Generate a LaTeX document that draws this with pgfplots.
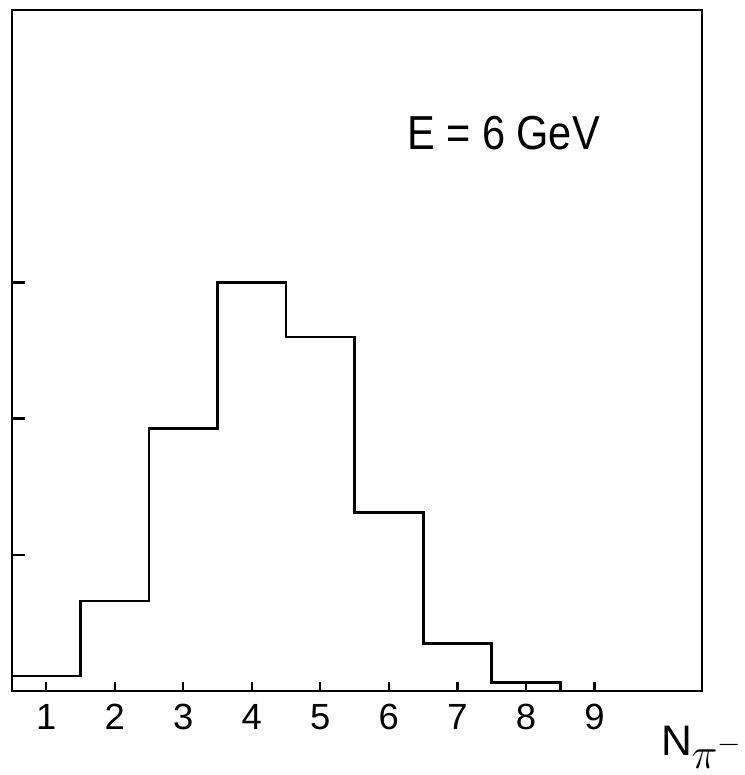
\documentclass[border=0pt]{standalone}
\usepackage{fontspec}
\setmainfont{Liberation Sans}
\usepackage{pgfplots}
\pgfplotsset{compat=1.18}

\begin{document}
\begin{tikzpicture}
% 1px of the reference = 0.014cm
\useasboundingbox (0,0) rectangle (10.416,10.85);
\begin{axis}[
  at={(0.168cm,1.176cm)}, anchor=south west,
  scale only axis,
  width=9.66cm, height=9.534cm,
  xmin=0.5, xmax=10.57,
  ymin=0, ymax=5,
  clip=false,
  axis line style={line width=0.9pt},
  tick align=inside,
  xtick pos=bottom, ytick pos=left,
  xtick={1,...,9},
  ytick={1,2,3},
  yticklabels={},
  major tick style={line width=0.9pt, black},
  xtick style={/pgfplots/major tick length=0.12cm},
  ytick style={/pgfplots/major tick length=0.18cm},
  /pgf/number format/assume math mode=true,
  xticklabel style={font=\fontsize{14.5}{16}\selectfont, anchor=base, yshift=-0.54cm},
  xlabel={N\raisebox{-0.32em}{$\pi^{-}$}},
  xlabel style={font=\fontsize{17}{19}\selectfont, at={(rel axis cs:0.94,-0.094)}, anchor=base west, inner sep=0pt},
]
\addplot[const plot mark left, line width=1.1pt, black] coordinates {
  (0.5,0) (0.5,0.11) (1.5,0.66) (2.5,1.93) (3.5,3.0) (4.5,2.60)
  (5.5,1.31) (6.5,0.35) (7.5,0.06) (8.5,0)
};
\node[anchor=west, inner sep=0pt, font=\fontsize{19}{21}\selectfont, xscale=0.87, transform shape]
  at (axis cs:6.26,4.10) {E = 6 GeV};
\end{axis}
\end{tikzpicture}
\end{document}
